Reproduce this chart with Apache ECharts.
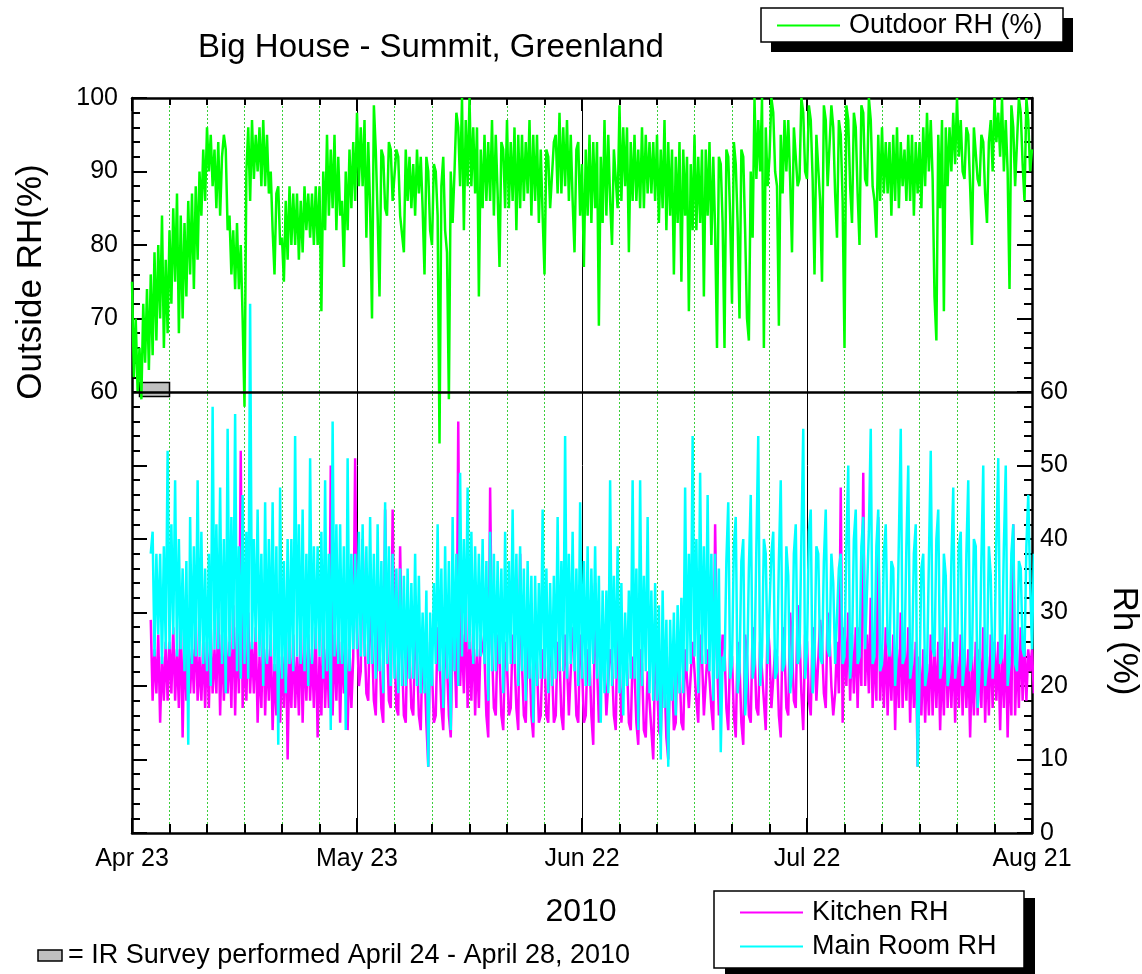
<!DOCTYPE html>
<html><head><meta charset="utf-8">
<script src="https://cdn.jsdelivr.net/npm/echarts@6/dist/echarts.min.js"></script>
<style>html,body{margin:0;padding:0;background:#fff}#c{width:1142px;height:974px}</style>
</head><body><div id="c"></div>
<script>
// x positions are days after Apr 23, 2010
const tickLabels = ['Apr 23', 'May 23', 'Jun 22', 'Jul 22', 'Aug 21'];
const outdoorStartDay = 0;
const indoorStartDay = 2.5;
const stepDays = 0.25;
const irSurveyDays = [1, 5]; // April 24 - April 28

// readings: each day block = two values from list A, then two values from list B
const outdoorRH = [
  75,62,66,59,74,63,79,67,84,66, 82,72,87,68,83,73,87,74,90,84,
  96,90,93,85,92,95,84,76,83,74, 58,90,97,89,96,88,95,87,76,87,
  81,75,88,80,87,78,88,82,87,80, 88,71,95,84,95,82,86,77,93,85,
  98,88,97,81,70,99,73,93,84,94, 86,93,84,79,92,85,93,87,76,92,
  80,91,53,88,79,59,90,98,100,82, 100,88,96,73,95,86,97,84,77,94,
  97,85,96,82,95,86,97,84,95,83, 76,93,85,94,98,87,97,86,79,93,
  91,77,95,83,94,69,97,84,80,93, 99,86,96,79,95,86,96,85,94,87,
  95,83,97,82,93,76,94,75,92,71, 95,82,93,73,94,80,66,92,66,93,
  72,94,70,93,70,67,100,89,100,66, 92,100,88,69,97,90,79,96,89,100,
  89,99,76,95,75,99,88,99,81,97, 66,99,83,98,80,99,88,100,86,81,
  96,87,94,84,96,85,93,86,95,84, 94,85,98,90,73,67,97,71,96,90,
  100,92,89,96,80,96,88,95,83,94, 100,94,100,90,74,99,88,100,86,100,
  93
];
const outdoorRHb = [
  70,60,72,64,76,65,80,70,78,68, 85,75,84,70,86,76,88,78,93,86,
  95,88,94,84,93,82,82,74,80,70, 96,86,95,90,97,88,90,82,88,80,
  86,78,87,80,86,79,87,81,88,80, 90,82,93,85,92,84,90,82,94,86,
  96,88,94,85,93,84,92,85,93,86, 92,84,93,86,91,84,92,85,90,82,
  90,84,92,82,90,83,96,88,97,88, 96,87,93,85,94,86,95,87,93,85,
  94,86,95,85,94,87,95,86,93,84, 92,85,95,87,96,88,95,86,94,84,
  93,84,94,85,92,83,95,86,93,85, 96,88,94,86,93,85,95,87,94,86,
  93,85,94,84,92,83,93,84,91,82, 92,83,93,84,92,82,91,83,92,84,
  91,83,92,82,90,81,97,90,96,88, 98,90,95,87,97,89,96,88,98,90,
  97,89,95,86,97,88,96,87,95,86, 97,88,96,87,98,89,97,88,95,86,
  94,87,95,86,94,88,95,86,94,87, 96,88,97,89,95,85,96,88,98,91,
  97,90,95,88,96,89,94,87,97,90, 98,92,97,90,96,88,98,91,97,90
];

const kitchenRH = [
  29,18,27,15,26,18,28,18,30,13,27,19,29,18,26,
  17,28,19,30,16,27,19,31,16,52, 17,30,19,28,15,29,16,27,14,26,
  15,29,10,27,17,29,15,27,18,28, 13,29,17,50,16,28,15,27,14,24,
  51,22,40,18,31,16,29,15,44,17, 44,16,39,15,29,16,27,14,26,9,
  26,16,28,14,26,13,27,56,20,32, 17,28,16,27,25,13,47,16,27,14,
  26,17,27,14,38,15,26,13,27,16, 25,15,27,16,26,14,27,16,28,15,
  27,16,25,12,34,15,26,16,25,14, 30,15,25,14,24,12,25,13,22,10,
  24,13,22,10,24,15,27,14,25,17, 26,15,27,16,25,14,42,16,27,14,
  25,13,26,12,27,15,28,16,26,14, 29,17,25,13,28,16,30,17,31,14,
  27,16,28,18,29,17,30,16,19,47, 15,30,18,28,17,49,20,32,17,43,
  18,28,16,27,14,30,17,28,15,26, 9,25,15,27,16,26,14,28,17,26,
  15,27,16,25,13,26,16,28,15,27, 17,26,14,27,13,42,16,28,18,25,
  22
];
const kitchenRHb = [
  25,19,24,18,26,19,25,17,27,18,25,19,24,18,26,17,25,19,27,18,
  26,17,28,19,25,18,26,19,24,17,25,18,23,16,24,17,25,17,24,16,
  26,18,25,17,24,16,25,17,27,18,26,19,25,17,28,20,27,19,26,18,
  25,17,26,18,25,17,24,16,25,17,24,16,23,15,22,15,24,17,23,16,
  25,17,27,19,26,18,25,17,24,16,25,17,24,16,23,16,24,17,23,16,
  24,16,23,15,24,16,23,15,24,16,23,16,24,16,23,15,24,16,23,15,
  24,16,23,16,24,15,23,15,22,15,23,14,22,14,21,14,21,13,22,14,
  23,15,25,17,26,18,24,16,25,17,24,16,25,17,24,16,23,15,24,16,
  25,17,26,18,25,17,24,16,25,17,26,18,27,19,26,18,25,18,26,19,
  27,20,26,19,28,20,27,19,28,20,27,19,26,18,25,17,26,18,25,17,
  26,18,25,17,24,16,23,16,25,17,24,16,25,17,24,17,25,17,24,16,
  25,17,24,16,26,18,25,17,24,16,25,17,26,18,25,19
];

const mainRoomRH = [
  38,41,27,38,25,52,27,48,25,36,12,43,24,48,23,
  36,20,58,25,47,19,55,25,57,21, 46,21,72,26,44,20,45,24,45,12,
  47,19,40,22,54,23,44,20,51,25, 39,21,48,14,56,23,42,14,51,25,
  38,24,42,23,43,21,42,19,45,20, 38,19,36,20,36,21,38,19,30,9,
  30,23,42,17,39,14,43,20,49,26, 47,23,39,24,40,18,41,22,37,19,
  41,23,44,20,39,18,37,15,35,21, 44,19,34,21,43,22,54,23,41,20,
  45,20,39,23,39,15,33,19,48,21, 39,16,30,21,48,14,48,22,43,18,
  34,10,33,9,29,16,31,19,47,23, 54,19,49,23,46,18,38,11,24,45,
  21,43,19,40,16,46,21,54,20,38, 23,41,21,48,22,35,19,42,23,55,
  21,44,19,38,24,44,25,34,23,38, 23,50,21,44,23,43,25,55,23,44,
  22,42,26,36,20,55,23,50,21,42, 9,38,20,52,25,44,21,35,20,47,
  21,41,20,48,22,39,17,50,20,35, 21,51,23,50,20,42,23,36,25,46,
  34
];
const mainRoomRHb = [
  24,38,23,39,25,42,24,40,22,37,23,39,24,41,22,38,25,42,23,40,
  24,43,22,39,23,41,25,40,24,38,23,40,22,39,21,37,23,40,24,42,
  22,38,23,39,24,41,22,38,24,42,23,39,22,38,25,41,24,39,23,38,
  22,37,23,39,21,36,20,35,21,34,20,35,19,33,20,34,22,36,21,37,
  22,38,24,40,25,41,24,38,23,37,22,38,23,36,22,37,23,38,22,36,
  21,35,20,34,21,36,20,35,22,37,21,38,22,36,21,37,20,36,21,35,
  19,33,20,35,19,34,20,33,21,36,20,35,19,33,18,31,17,29,18,30,
  19,32,22,38,24,40,23,39,22,38,21,36,22,37,23,39,22,37,21,36,
  23,39,24,40,23,38,22,37,23,39,22,38,24,40,25,41,24,39,23,37,
  24,38,23,36,24,39,25,40,24,39,25,41,24,39,23,38,24,37,25,40,
  24,39,23,38,21,36,22,37,24,40,23,38,22,37,24,39,23,38,24,40,
  22,37,23,39,25,40,24,39,23,38,22,37,24,39,25,38
];

// build [x, y] pairs: per half-day block two readings of A then two of B
function buildSeries(start, a, b) {
  const vals = [];
  for (let i = 0; i < a.length; i += 2) {
    vals.push(a[i]);
    if (i + 1 < a.length) vals.push(a[i + 1]);
    if (i < b.length) vals.push(b[i]);
    if (i + 1 < b.length) vals.push(b[i + 1]);
  }
  return vals.map((v, k) => [start + k * stepDays, v]);
}

const FF = '"Liberation Sans", Arial, sans-serif';
const chart = echarts.init(document.getElementById('c'), null, { renderer: 'canvas' });

function xAxisCfg(pos) {
  const bottom = pos === 'bottom';
  return {
    type: 'value', position: pos, min: 0, max: 120, interval: 30,
    axisLine: { show: true, onZero: false, lineStyle: { color: '#000', width: 2.5 } },
    axisTick: { show: true, inside: true, length: bottom ? 15 : 13, lineStyle: { color: '#000', width: 2 } },
    minorTick: { show: true, splitNumber: 6, length: bottom ? 9 : 7, lineStyle: { color: '#000', width: 2 } },
    axisLabel: bottom ? {
      show: true, margin: 14, fontSize: 25, color: '#000', fontFamily: FF,
      formatter: v => tickLabels[Math.round(v / 30)] || ''
    } : { show: false },
    splitLine: bottom ? { show: true, lineStyle: { color: '#000', width: 1 } } : { show: false },
    minorSplitLine: bottom ? { show: true, lineStyle: { color: '#3ccf3c', width: 1, type: [2, 2] } } : { show: false }
  };
}
function yAxisCfg(pos) {
  const left = pos === 'left';
  return {
    type: 'value', position: pos, min: 0, max: 100, interval: 10,
    axisLine: { show: true, onZero: false, lineStyle: { color: '#000', width: 2.5 } },
    axisTick: { show: true, inside: true, length: 15, lineStyle: { color: '#000', width: 2 } },
    minorTick: { show: true, splitNumber: 5, length: 8, lineStyle: { color: '#000', width: 2 } },
    axisLabel: {
      show: true, margin: left ? 14 : 8, fontSize: 25, color: '#000', fontFamily: FF,
      formatter: v => left ? (v >= 60 ? String(v) : '') : (v <= 60 ? String(v) : '')
    },
    splitLine: { show: false }
  };
}

const option = {
  animation: false,
  backgroundColor: '#fff',
  title: {
    text: 'Big House - Summit, Greenland', left: 198, top: 31, padding: 0,
    textStyle: { fontSize: 33, fontWeight: 'normal', color: '#000', fontFamily: FF }
  },
  grid: { left: 132, right: 110, top: 98, bottom: 141, containLabel: false },
  xAxis: [xAxisCfg('bottom'), xAxisCfg('top')],
  yAxis: [yAxisCfg('left'), yAxisCfg('right')],
  legend: [
    {
      data: ['Outdoor RH (%)'], left: 777, top: 12, padding: 0,
      itemWidth: 63, itemHeight: 2, icon: 'rect', selectedMode: false,
      textStyle: { fontSize: 27, color: '#000', fontFamily: FF, padding: [0, 0, 0, 4] }
    },
    {
      data: ['Kitchen RH', 'Main Room RH'], orient: 'vertical', left: 740, top: 899, padding: 0,
      itemGap: 7, itemWidth: 63, itemHeight: 2, icon: 'rect', selectedMode: false,
      textStyle: { fontSize: 27, color: '#000', fontFamily: FF, padding: [0, 0, 0, 4] }
    }
  ],
  graphic: [
    { type: 'rect', z: 0, shape: { x: 771, y: 18, width: 302, height: 34 }, style: { fill: '#000' } },
    { type: 'rect', z: 1, shape: { x: 761, y: 8, width: 302, height: 34 }, style: { fill: '#fff', stroke: '#000', lineWidth: 1.5 } },
    { type: 'rect', z: 0, shape: { x: 725, y: 898, width: 310, height: 77 }, style: { fill: '#000' } },
    { type: 'rect', z: 1, shape: { x: 714, y: 891, width: 310, height: 77 }, style: { fill: '#fff', stroke: '#000', lineWidth: 1.5 } },
    { type: 'rect', z: 1, shape: { x: 38, y: 950, width: 24, height: 11 }, style: { fill: '#c0c0c0', stroke: '#000', lineWidth: 1.5 } },
    { type: 'text', z: 1, x: 68, y: 956, style: { text: '= IR Survey performed April 24 - April 28, 2010', font: '27px ' + FF, fill: '#000', textAlign: 'left', textVerticalAlign: 'middle', align: 'left', verticalAlign: 'middle' } },
    { type: 'text', z: 1, x: 581, y: 912, style: { text: '2010', font: '32px ' + FF, fill: '#000', textAlign: 'center', textVerticalAlign: 'middle', align: 'center', verticalAlign: 'middle' } },
    { type: 'text', z: 1, x: 31, y: 282, rotation: Math.PI / 2, style: { text: 'Outside RH(%)', font: '35px ' + FF, fill: '#000', textAlign: 'center', textVerticalAlign: 'middle', align: 'center', verticalAlign: 'middle' } },
    { type: 'text', z: 1, x: 1124, y: 641, rotation: -Math.PI / 2, style: { text: 'Rh (%)', font: '35px ' + FF, fill: '#000', textAlign: 'center', textVerticalAlign: 'middle', align: 'center', verticalAlign: 'middle' } }
  ],
  series: [
    {
      name: 'Kitchen RH', type: 'line', xAxisIndex: 0, yAxisIndex: 1,
      data: buildSeries(indoorStartDay, kitchenRH, kitchenRHb), showSymbol: false, symbol: 'none',
      lineStyle: { color: '#ff00ff', width: 2.5 }, itemStyle: { color: '#ff00ff' }, z: 2
    },
    {
      name: 'Main Room RH', type: 'line', xAxisIndex: 0, yAxisIndex: 1,
      data: buildSeries(indoorStartDay, mainRoomRH, mainRoomRHb), showSymbol: false, symbol: 'none',
      lineStyle: { color: '#00ffff', width: 2.5 }, itemStyle: { color: '#00ffff' }, z: 3
    },
    {
      name: 'Outdoor RH (%)', type: 'line', xAxisIndex: 0, yAxisIndex: 0,
      data: buildSeries(outdoorStartDay, outdoorRH, outdoorRHb), showSymbol: false, symbol: 'none',
      lineStyle: { color: '#00ff00', width: 2.5 }, itemStyle: { color: '#00ff00' }, z: 4,
      markLine: {
        silent: true, symbol: ['none', 'none'], label: { show: false },
        lineStyle: { color: '#000', width: 2.5, type: 'solid' },
        data: [{ yAxis: 60 }]
      },
      markArea: {
        silent: true, label: { show: false },
        itemStyle: { color: '#c0c0c0', borderColor: '#000', borderWidth: 1.5 },
        data: [[{ xAxis: irSurveyDays[0], yAxis: 59.4 }, { xAxis: irSurveyDays[1], yAxis: 61.3 }]]
      }
    }
  ]
};
chart.setOption(option);
</script></body></html>
